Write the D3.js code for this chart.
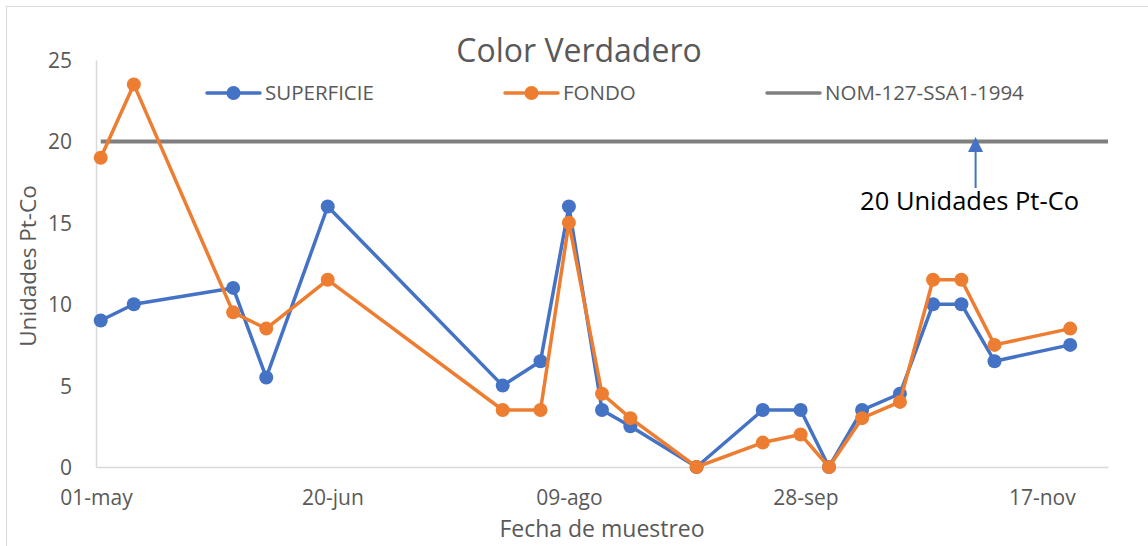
<!DOCTYPE html>
<html lang="es">

<head>
    <meta charset="UTF-8">
    <title>Color Verdadero</title>
    <style>
        body { margin: 0; background: #fff; }
        svg { display: block; font-family: "Open Sans", sans-serif; }
    </style>
</head>

<body>

    <svg id="chart" width="1148" height="546"></svg>

    <script src="https://d3js.org/d3.v7.min.js"></script>

    <script>

        // fechas de muestreo y valores

        var sampleDates = ["2019-05-02", "2019-05-09", "2019-05-30", "2019-06-06", "2019-06-19",
            "2019-07-26", "2019-08-03", "2019-08-09", "2019-08-16", "2019-08-22",
            "2019-09-05", "2019-09-19", "2019-09-27", "2019-10-03", "2019-10-10",
            "2019-10-18", "2019-10-25", "2019-10-31", "2019-11-07", "2019-11-23"];

        var superficie = [9, 10, 11, 5.5, 16, 5, 6.5, 16, 3.5, 2.5, 0, 3.5, 3.5, 0, 3.5, 4.5, 10, 10, 6.5, 7.5];
        var fondo = [19, 23.5, 9.5, 8.5, 11.5, 3.5, 3.5, 15, 4.5, 3, 0, 1.5, 2, 0, 3, 4, 11.5, 11.5, 7.5, 8.5];

        // limite de la norma
        var nomDates = ["2019-05-02", "2019-12-01"];
        var nomValues = [20, 20];

        var xTickDates = ["2019-05-01", "2019-06-20", "2019-08-09", "2019-09-28", "2019-11-17"];
        var yTicks = [0, 5, 10, 15, 20, 25];

        var seriesNames = ["SUPERFICIE", "FONDO", "NOM-127-SSA1-1994"];
        var seriesColors = ["#4472C4", "#ED7D31", "#7F7F7F"];

        var parse = d3.timeParse("%Y-%m-%d");

        // formato de fecha en español: 01-may
        var es = d3.timeFormatLocale({
            dateTime: "%A, %e de %B de %Y, %X",
            date: "%d/%m/%Y",
            time: "%H:%M:%S",
            periods: ["AM", "PM"],
            days: ["domingo", "lunes", "martes", "miércoles", "jueves", "viernes", "sábado"],
            shortDays: ["dom", "lun", "mar", "mié", "jue", "vie", "sáb"],
            months: ["enero", "febrero", "marzo", "abril", "mayo", "junio", "julio", "agosto", "septiembre", "octubre", "noviembre", "diciembre"],
            shortMonths: ["ene", "feb", "mar", "abr", "may", "jun", "jul", "ago", "sep", "oct", "nov", "dic"]
        });
        var fmt = es.format("%d-%b");

        var svg = d3.select("#chart"),
            plotLeft = 96, plotRight = 1108, plotTop = 60, plotBottom = 467;

        // marco del grafico (se sale de la ventana por la derecha)
        svg.append("rect")
            .attr("x", 6.5).attr("y", 6.5)
            .attr("width", 1146).attr("height", 545)
            .attr("fill", "#fff")
            .attr("stroke", "#D9D9D9");

        var x = d3.scaleTime()
            .domain([parse("2019-05-01"), parse("2019-12-01")])
            .range([plotLeft, plotRight]);

        var y = d3.scaleLinear()
            .domain([0, 25])
            .range([plotBottom, plotTop]);

        // ejes

        var xAxis = svg.append("g")
            .attr("transform", "translate(0," + plotBottom + ")")
            .call(d3.axisBottom(x)
                .tickValues(xTickDates.map(parse))
                .tickFormat(fmt)
                .tickSize(0)
                .tickPadding(23));

        var yAxis = svg.append("g")
            .attr("transform", "translate(" + plotLeft + ",0)")
            .call(d3.axisLeft(y)
                .tickValues(yTicks)
                .tickSize(0)
                .tickPadding(24));

        [xAxis, yAxis].forEach(function(g) {
            g.select(".domain").attr("stroke", "#D9D9D9").attr("stroke-width", 1.5);
            g.selectAll("text")
                .attr("fill", "#595959")
                .attr("font-family", "Open Sans")
                .attr("font-size", 21);
        });
        yAxis.selectAll("text").attr("dy", "0.36em");

        // titulos

        svg.append("text")
            .attr("x", 579).attr("y", 62)
            .attr("text-anchor", "middle")
            .attr("fill", "#595959")
            .attr("font-size", 32)
            .text("Color Verdadero");

        svg.append("text")
            .attr("x", 602).attr("y", 537)
            .attr("text-anchor", "middle")
            .attr("fill", "#595959")
            .attr("font-size", 23)
            .text("Fecha de muestreo");

        svg.append("text")
            .attr("transform", "translate(36,266) rotate(-90)")
            .attr("text-anchor", "middle")
            .attr("fill", "#595959")
            .attr("font-size", 22.5)
            .text("Unidades Pt-Co");

        // leyenda

        var legendX = [207, 505, 767];
        var legend = svg.append("g");
        seriesNames.forEach(function(name, i) {
            var g = legend.append("g").attr("transform", "translate(" + legendX[i] + ",93)");
            g.append("line")
                .attr("x1", 0).attr("x2", 53)
                .attr("stroke", seriesColors[i])
                .attr("stroke-width", 3.5)
                .attr("stroke-linecap", "round");
            if (i < 2) {
                g.append("circle").attr("cx", 26.5).attr("r", 7).attr("fill", seriesColors[i]);
            }
            g.append("text")
                .attr("x", 58).attr("dy", "0.36em")
                .attr("fill", "#595959")
                .attr("font-size", 20.5)
                .text(name);
        });

        // series

        var line = d3.line()
            .x(function(d) { return x(d.date); })
            .y(function(d) { return y(d.value); });

        var nom = nomDates.map(function(d, i) { return { date: parse(d), value: nomValues[i] }; });
        svg.append("path")
            .datum(nom)
            .attr("d", line)
            .attr("fill", "none")
            .attr("stroke", seriesColors[2])
            .attr("stroke-width", 4);

        [superficie, fondo].forEach(function(values, i) {
            var pts = sampleDates.map(function(d, j) { return { date: parse(d), value: values[j] }; });
            svg.append("path")
                .datum(pts)
                .attr("d", line)
                .attr("fill", "none")
                .attr("stroke", seriesColors[i])
                .attr("stroke-width", 3.5)
                .attr("stroke-linejoin", "round");
            svg.append("g").selectAll("circle")
                .data(pts)
                .enter().append("circle")
                .attr("cx", function(d) { return x(d.date); })
                .attr("cy", function(d) { return y(d.value); })
                .attr("r", 7)
                .attr("fill", seriesColors[i]);
        });

        // anotacion con flecha sobre el limite de 20

        var arrowDate = parse("2019-11-03");
        var ax = x(arrowDate);
        svg.append("line")
            .attr("x1", ax).attr("x2", ax)
            .attr("y1", 188).attr("y2", 150)
            .attr("stroke", "#4472C4")
            .attr("stroke-width", 2);
        svg.append("path")
            .attr("d", "M" + (ax - 7.5) + ",152 L" + ax + ",137 L" + (ax + 7.5) + ",152 Z")
            .attr("fill", "#4472C4");

        svg.append("text")
            .attr("x", ax - 6).attr("y", 210)
            .attr("text-anchor", "middle")
            .attr("fill", "#000")
            .attr("font-size", 25.5)
            .text("20 Unidades Pt-Co");

    </script>

</body>

</html>
